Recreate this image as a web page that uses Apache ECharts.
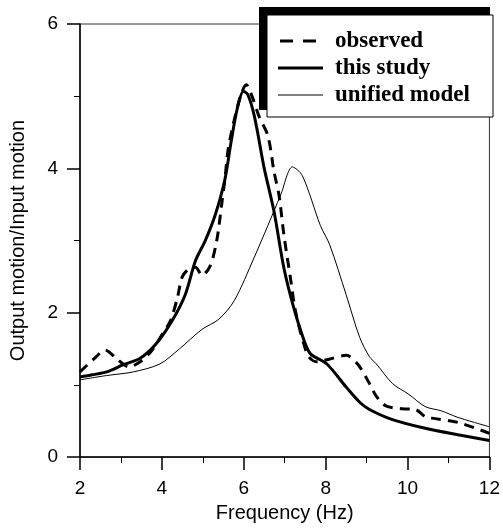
<!DOCTYPE html>
<html>
<head>
<meta charset="utf-8">
<script src="https://cdn.jsdelivr.net/npm/echarts@6/dist/echarts.min.js"></script>
<style>
html,body{margin:0;padding:0;background:#fff;}
#chart{width:503px;height:528px;}
</style>
</head>
<body>
<div id="chart"></div>
<script>
// Frequency (Hz) and amplification values
var observedFreq = [2.0,2.34,2.62,2.9,3.2,3.47,3.73,4.02,4.21,4.38,4.5,4.69,4.82,4.98,5.18,5.34,5.46,5.54,5.62,5.8,5.95,6.06,6.2,6.38,6.59,6.74,6.86,6.98,7.14,7.26,7.45,7.59,7.79,8.1,8.5,8.78,9.07,9.24,9.47,9.87,10.19,10.43,10.59,11.23,12];
var observedVal  = [1.18,1.36,1.48,1.36,1.25,1.32,1.46,1.71,1.89,2.21,2.5,2.62,2.63,2.52,2.65,3.0,3.5,3.85,4.27,4.75,5.05,5.16,5.0,4.71,4.45,3.95,3.63,3.08,2.48,2.03,1.6,1.39,1.32,1.36,1.41,1.29,1.02,0.84,0.71,0.67,0.66,0.56,0.54,0.48,0.33];

var studyFreq = [2.0,2.3,2.65,3.06,3.47,3.86,4.26,4.57,4.82,5.06,5.3,5.54,5.7,5.85,5.99,6.1,6.26,6.5,6.74,6.98,7.22,7.47,7.63,8.03,8.5,8.83,9.07,9.63,10.43,11.23,12];
var studyVal  = [1.11,1.14,1.18,1.28,1.37,1.57,1.9,2.25,2.72,3.0,3.35,3.85,4.4,4.85,5.07,5.02,4.72,4.0,3.4,2.62,2.07,1.62,1.43,1.29,0.97,0.76,0.66,0.52,0.4,0.31,0.23];

var unifiedFreq = [2.0,2.65,3.3,3.95,4.43,4.98,5.39,5.77,6.25,6.59,6.9,7.19,7.43,7.87,8.1,8.5,8.83,9.07,9.24,9.63,10.03,10.43,10.83,11.23,12];
var unifiedVal  = [1.07,1.13,1.18,1.29,1.5,1.77,1.91,2.17,2.76,3.21,3.63,4.02,3.9,3.21,2.94,2.25,1.66,1.39,1.29,1.02,0.87,0.7,0.64,0.55,0.42];

var seriesNames = ['observed','this study','unified model'];
var xTicks = [2,4,6,8,10,12];
var yTicks = [0,2,4,6];

function pairs(f, v){ return f.map(function(x,i){ return [x, v[i]]; }); }

var chart = echarts.init(document.getElementById('chart'), null, {renderer:'canvas'});
var sans = '"Liberation Sans", Arial, sans-serif';

var lineStyles = [
  {stroke:'#000', lineWidth:3, lineDash:[13,10]},
  {stroke:'#000', lineWidth:3},
  {stroke:'#000', lineWidth:1}
];
var legendRows = [41, 68, 95];
var legendGraphics = [
  {type:'rect', z:10, shape:{x:259,y:7,width:231,height:103}, style:{fill:'#000'}},
  {type:'rect', z:11, shape:{x:267,y:15,width:226,height:102}, style:{fill:'#fff',stroke:'#000',lineWidth:1}}
];
seriesNames.forEach(function(n,i){
  var x1 = i === 0 ? 280 : 278;
  var x2 = i === 0 ? 317 : 323;
  legendGraphics.push({type:'line', z:12, shape:{x1:x1,y1:legendRows[i],x2:x2,y2:legendRows[i]}, style:lineStyles[i]});
  legendGraphics.push({type:'text', z:12, x:335, y:legendRows[i], style:{text:n, fill:'#000', font:'bold 23px "Liberation Serif", "Times New Roman", serif', textVerticalAlign:'middle', verticalAlign:'middle'}});
});

chart.setOption({
  animation:false,
  backgroundColor:'#fff',
  grid:{left:76,right:11,top:24,bottom:67,show:true,borderColor:'#333',borderWidth:1,backgroundColor:'transparent'},
  xAxis:{
    type:'value', min:xTicks[0], max:xTicks[xTicks.length-1], interval:2,
    name:'Frequency (Hz)', nameLocation:'middle', nameGap:43,
    nameTextStyle:{fontFamily:sans,fontSize:20,color:'#000'},
    axisLine:{show:true,lineStyle:{color:'#000',width:1.5}},
    axisTick:{show:true,inside:false,length:13,lineStyle:{color:'#000',width:1.5}},
    minorTick:{show:true,splitNumber:2,length:6,lineStyle:{color:'#000',width:1}},
    splitLine:{show:false},
    axisLabel:{fontFamily:sans,fontSize:19,color:'#000',margin:22}
  },
  yAxis:{
    type:'value', min:yTicks[0], max:yTicks[yTicks.length-1], interval:2,
    name:'Output motion/Input motion', nameLocation:'middle', nameGap:52,
    nameTextStyle:{fontFamily:sans,fontSize:20,color:'#000'},
    axisLine:{show:true,lineStyle:{color:'#000',width:1.5}},
    axisTick:{show:true,inside:false,length:13,lineStyle:{color:'#000',width:1.5}},
    minorTick:{show:true,splitNumber:2,length:6,lineStyle:{color:'#000',width:1}},
    splitLine:{show:false},
    axisLabel:{fontFamily:sans,fontSize:19,color:'#000',margin:22}
  },
  legend:{show:false},
  graphic:legendGraphics,
  series:[
    {name:seriesNames[0], type:'line', data:pairs(observedFreq,observedVal), showSymbol:false, symbol:'none', smooth:0.3,
     lineStyle:{color:'#000',width:3,type:[10,7]}, itemStyle:{color:'#000'}, z:3},
    {name:seriesNames[1], type:'line', data:pairs(studyFreq,studyVal), showSymbol:false, symbol:'none', smooth:0.3,
     lineStyle:{color:'#000',width:3,type:'solid'}, itemStyle:{color:'#000'}, z:3},
    {name:seriesNames[2], type:'line', data:pairs(unifiedFreq,unifiedVal), showSymbol:false, symbol:'none', smooth:0.3,
     lineStyle:{color:'#000',width:1,type:'solid'}, itemStyle:{color:'#000'}, z:3}
  ]
});
</script>
</body>
</html>
